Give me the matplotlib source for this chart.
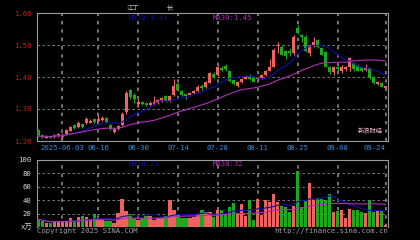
import numpy as np
import pandas as pd
import matplotlib
matplotlib.use('Agg')
import matplotlib.pyplot as plt

plt.rcParams['font.family'] = ['DejaVu Sans Mono', 'Noto Sans CJK SC']

# 日K数据
opens = [1.235, 1.218, 1.213, 1.214, 1.212, 1.218, 1.215, 1.222, 1.232, 1.250,
         1.243, 1.252, 1.255, 1.258, 1.268, 1.262, 1.268, 1.272, 1.250, 1.228,
         1.236, 1.250, 1.290, 1.358, 1.345, 1.318, 1.322, 1.318, 1.316, 1.318,
         1.318, 1.325, 1.340, 1.325, 1.345, 1.378, 1.355, 1.345, 1.345, 1.350,
         1.356, 1.372, 1.368, 1.382, 1.410, 1.405, 1.428, 1.435, 1.418, 1.390,
         1.372, 1.385, 1.396, 1.402, 1.400, 1.395, 1.398, 1.405, 1.420, 1.432,
         1.497, 1.495, 1.480, 1.480, 1.474, 1.553, 1.530, 1.525, 1.475, 1.500,
         1.515, 1.490, 1.478, 1.432, 1.415, 1.430, 1.418, 1.428, 1.430, 1.445,
         1.435, 1.430, 1.425, 1.428, 1.400, 1.378, 1.380, 1.365]
closes = [1.215, 1.214, 1.214, 1.212, 1.220, 1.222, 1.219, 1.234, 1.245, 1.240,
          1.255, 1.245, 1.268, 1.262, 1.258, 1.270, 1.270, 1.258, 1.238, 1.238,
          1.248, 1.285, 1.350, 1.338, 1.330, 1.322, 1.316, 1.312, 1.318, 1.322,
          1.328, 1.335, 1.325, 1.342, 1.372, 1.358, 1.345, 1.342, 1.350, 1.356,
          1.368, 1.365, 1.385, 1.413, 1.400, 1.432, 1.424, 1.425, 1.386, 1.378,
          1.384, 1.395, 1.400, 1.395, 1.385, 1.400, 1.405, 1.420, 1.432, 1.484,
          1.500, 1.470, 1.465, 1.475, 1.526, 1.537, 1.525, 1.480, 1.500, 1.510,
          1.495, 1.470, 1.432, 1.415, 1.432, 1.428, 1.432, 1.430, 1.460, 1.425,
          1.420, 1.418, 1.427, 1.397, 1.380, 1.385, 1.370, 1.370]
highs = [1.238, 1.222, 1.218, 1.217, 1.223, 1.226, 1.224, 1.237, 1.248, 1.253,
         1.262, 1.256, 1.276, 1.268, 1.270, 1.280, 1.277, 1.275, 1.252, 1.242,
         1.250, 1.290, 1.355, 1.362, 1.350, 1.330, 1.325, 1.320, 1.325, 1.340,
         1.330, 1.338, 1.343, 1.345, 1.395, 1.382, 1.358, 1.350, 1.352, 1.360,
         1.375, 1.378, 1.388, 1.416, 1.416, 1.435, 1.435, 1.440, 1.420, 1.392,
         1.388, 1.398, 1.405, 1.410, 1.403, 1.403, 1.408, 1.422, 1.455, 1.490,
         1.510, 1.500, 1.485, 1.490, 1.530, 1.562, 1.535, 1.530, 1.503, 1.525,
         1.520, 1.493, 1.480, 1.435, 1.435, 1.435, 1.436, 1.435, 1.462, 1.448,
         1.440, 1.432, 1.440, 1.430, 1.402, 1.388, 1.383, 1.372]
lows = [1.212, 1.210, 1.209, 1.209, 1.210, 1.213, 1.205, 1.220, 1.230, 1.238,
        1.240, 1.242, 1.252, 1.255, 1.255, 1.258, 1.262, 1.255, 1.235, 1.225,
        1.233, 1.248, 1.285, 1.330, 1.318, 1.308, 1.312, 1.310, 1.310, 1.312,
        1.316, 1.322, 1.322, 1.322, 1.342, 1.355, 1.340, 1.330, 1.342, 1.348,
        1.354, 1.360, 1.365, 1.380, 1.396, 1.402, 1.418, 1.420, 1.383, 1.375,
        1.370, 1.382, 1.393, 1.390, 1.383, 1.390, 1.395, 1.402, 1.418, 1.430,
        1.475, 1.468, 1.455, 1.465, 1.470, 1.535, 1.510, 1.478, 1.465, 1.495,
        1.490, 1.468, 1.430, 1.410, 1.405, 1.420, 1.412, 1.420, 1.418, 1.420,
        1.418, 1.415, 1.420, 1.395, 1.378, 1.375, 1.368, 1.362]
volumes = [11.5, 9, 6, 6, 8, 8, 8, 9, 13, 8,
           14.5, 16, 15, 11, 19, 13, 10, 9, 9, 6,
           21, 42.5, 24, 19, 13, 10, 14, 17, 16, 11,
           13, 13, 17, 40, 26, 20, 14, 14, 14, 15,
           20, 25, 23, 22.5, 15, 25, 25, 19.5, 30, 36,
           19.5, 34, 16, 40, 11, 42.5, 17.5, 40, 37.5, 49,
           37.5, 31, 30, 22.5, 31, 84, 30, 39, 66, 42.5,
           44, 42.5, 40, 49, 22.5, 24, 26, 13, 27, 26,
           26, 22.5, 21, 40, 22.5, 24, 24, 3]

date_pos = [6, 15, 25, 35, 45, 55, 65, 75, 87]
date_labels = ['2025-06-03', '06-16', '06-30', '07-14', '07-28',
               '08-11', '08-25', '09-08', '09-24']
price_ticks = [1.20, 1.30, 1.40, 1.50, 1.60]
vol_ticks = [20, 40, 60, 80, 100]

RED = '#f06262'
GREEN = '#1fa81f'
BLUE = '#1010a8'
MAG = '#b030b8'
GRID = '#8a8a8a'

o = np.array(opens)
c = np.array(closes)
h = np.array(highs)
l = np.array(lows)
v = np.array(volumes)
x = np.arange(len(c))
up = c >= o
cols = np.where(up, RED, GREEN)

ma10 = pd.Series(c).rolling(10, min_periods=1).mean()
ma30 = pd.Series(c).rolling(30, min_periods=1).mean()
vma10 = pd.Series(v).rolling(10, min_periods=1).mean()
vma30 = pd.Series(v).rolling(30, min_periods=1).mean()

fig = plt.figure(figsize=(4.2, 2.4), dpi=100, facecolor='black')
ax = fig.add_axes([37/420, 1 - 141/240, 351/420, 128/240], facecolor='black')
axv = fig.add_axes([37/420, 1 - 227/240, 351/420, 67/240], facecolor='black')

xlim = (-0.3, len(c) - 0.4)
fs = 5.2

# 价格面板
for y in price_ticks[1:-1]:
    ax.axhline(y, color=GRID, lw=0.6, ls=(0, (3, 3)), zorder=0)
for p in date_pos:
    ax.axvline(p, color=GRID, lw=1.2, ls=(0, (2, 3)), zorder=0)
ax.vlines(x, l, h, color=cols, lw=0.8, zorder=2)
body = np.maximum(np.abs(c - o), 0.006)
ax.bar(x, body, bottom=(o + c) / 2 - body / 2, width=0.75,
       color=cols, zorder=3, antialiased=False)
ax.plot(x, ma10, color=BLUE, lw=0.8, zorder=4)
ax.plot(x, ma30, color=MAG, lw=0.8, zorder=4)
ax.set_xlim(*xlim)
ax.set_ylim(1.20, 1.60)
ax.set_yticks(price_ticks)
ax.set_yticklabels(['%.2f' % t for t in price_ticks])
ax.tick_params(axis='y', colors='#c81e1e', labelsize=fs, length=0, pad=4)
ax.set_xticks([])
for s in ax.spines.values():
    s.set_color('#9a9a9a')
    s.set_linewidth(0.8)
for p, lab in zip(date_pos, date_labels):
    ha = 'right' if p == date_pos[-1] else 'center'
    ax.text(p, -0.035, lab, transform=ax.get_xaxis_transform(), ha=ha, va='top',
            color='#3d8ed8', fontsize=fs)
ax.text(0.26, 0.985, 'MA10:1.41', transform=ax.transAxes, color=BLUE,
        fontsize=fs, va='top')
ax.text(0.50, 0.985, 'MA30:1.45', transform=ax.transAxes, color=MAG,
        fontsize=fs, va='top')
fig.text(127/420, 1 - 8/240, '江丁', color='#cfcfcf', fontsize=4.5, va='center')
fig.text(167/420, 1 - 8/240, '长', color='#cfcfcf', fontsize=4.5, va='center')
ax.text(0.985, 0.06, '新浪财经', transform=ax.transAxes, color='#f0c0c8',
        fontsize=4.5, ha='right', va='bottom')

# 成交量面板
for y in vol_ticks[:-1]:
    axv.axhline(y, color=GRID, lw=0.6, ls=(0, (3, 3)), zorder=0)
for p in date_pos:
    axv.axvline(p, color=GRID, lw=1.2, ls=(0, (2, 3)), zorder=0)
axv.bar(x, v, width=0.8, color=cols, zorder=3, antialiased=False)
axv.plot(x, vma10, color=BLUE, lw=0.8, zorder=4)
axv.plot(x, vma30, color=MAG, lw=0.8, zorder=4)
axv.set_xlim(*xlim)
axv.set_ylim(0, 100)
axv.set_yticks(vol_ticks)
axv.set_yticklabels([str(t) for t in vol_ticks])
axv.tick_params(axis='y', colors='#dcdcdc', labelsize=fs, length=0, pad=4)
axv.set_xticks([])
for s in axv.spines.values():
    s.set_color('#9a9a9a')
    s.set_linewidth(0.8)
axv.spines['bottom'].set_visible(False)
axv.text(-0.012, 0.0, 'x万', transform=axv.transAxes, color='#dcdcdc',
         fontsize=fs, ha='right', va='center')
axv.text(0.26, 0.985, 'MA10:23', transform=axv.transAxes, color=BLUE,
         fontsize=fs, va='top')
axv.text(0.50, 0.985, 'MA30:32', transform=axv.transAxes, color=MAG,
         fontsize=fs, va='top')
fig.text(37/420, 1 - 231/240, 'Copyright 2025 SINA.COM', color='#a0a0a0',
         fontsize=fs, va='center')
fig.text(388/420, 1 - 231/240, 'http://finance.sina.com.cn', color='#a0a0a0',
         fontsize=fs, va='center', ha='right')

fig.savefig('out.png', dpi=100, facecolor='black')
